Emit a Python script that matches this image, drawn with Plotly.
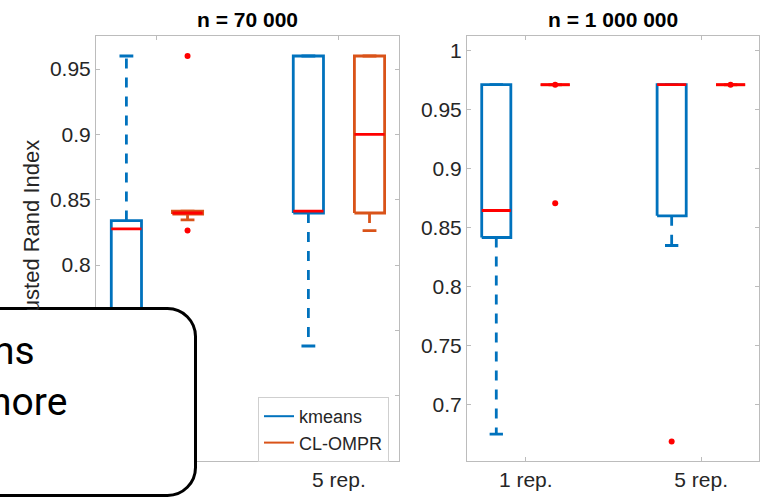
import plotly.graph_objects as go

W, H = 760, 497

groups = ["1 rep.", "5 rep."]
methods = ["kmeans", "CL-OMPR"]
panel_titles = ["n = 70 000", "n = 1 000 000"]
y_label = "Adjusted Rand Index"
callout_lines = ["ns", "nore"]

# ---- n = 70 000 ----
k70_q1 = [0.750, 0.8398]
k70_med = [0.8276, 0.8413]
k70_q3 = [0.8340, 0.9600]
k70_lo = [0.690, 0.7380]
k70_hi = [0.9600, 0.9600]
k70_out = [[], []]

c70_q1 = [0.8390, 0.8398]
c70_med = [0.8398, 0.9000]
c70_q3 = [0.8413, 0.9600]
c70_lo = [0.8345, 0.8263]
c70_hi = [0.8413, 0.9600]
c70_out = [[0.9600, 0.8265], []]

# ---- n = 1 000 000 ----
k1m_q1 = [0.8418, 0.8602]
k1m_med = [0.8647, 0.9714]
k1m_q3 = [0.9714, 0.9714]
k1m_lo = [0.6750, 0.8350]
k1m_hi = [0.9714, 0.9714]
k1m_out = [[], [0.6687]]

c1m_q1 = [0.9713, 0.9713]
c1m_med = [0.9714, 0.9714]
c1m_q3 = [0.9715, 0.9715]
c1m_lo = [0.9713, 0.9713]
c1m_hi = [0.9715, 0.9715]
c1m_out = [[0.8709, 0.9714], [0.9714]]

left_yticks = [0.7, 0.75, 0.8, 0.85, 0.9, 0.95]
left_yticklabels = ["0.7", "0.75", "0.8", "0.85", "0.9", "0.95"]
right_yticks = [0.7, 0.75, 0.8, 0.85, 0.9, 0.95, 1.0]
right_yticklabels = ["0.7", "0.75", "0.8", "0.85", "0.9", "0.95", "1"]

BLUE = "#0072BD"
ORANGE = "#D95319"
RED = "#FF0000"
AXC = "#bcbcbc"
TXT = "#262626"
FONT = "Liberation Sans, Arial, sans-serif"

panels = [
    dict(stats=[(k70_q1, k70_med, k70_q3, k70_lo, k70_hi, k70_out),
                (c70_q1, c70_med, c70_q3, c70_lo, c70_hi, c70_out)],
         xa="x", ya="y"),
    dict(stats=[(k1m_q1, k1m_med, k1m_q3, k1m_lo, k1m_hi, k1m_out),
                (c1m_q1, c1m_med, c1m_q3, c1m_lo, c1m_hi, c1m_out)],
         xa="x2", ya="y2"),
]

offsets = [-0.168, 0.168]
half = 0.083
cap = 0.038
colors = [BLUE, ORANGE]

fig = go.Figure()

for p in panels:
    for m, (q1, med, q3, lo, hi, out) in enumerate(p["stats"]):
        bx, by, wx, wy, mx, my, ox, oy = [], [], [], [], [], [], [], []
        for g in range(len(groups)):
            c = g + 1 + offsets[m]
            bx += [c - half, c + half, c + half, c - half, c - half, None]
            by += [q1[g], q1[g], q3[g], q3[g], q1[g], None]
            bx += [c - cap, c + cap, None, c - cap, c + cap, None]
            by += [hi[g], hi[g], None, lo[g], lo[g], None]
            wx += [c, c, None, c, c, None]
            wy += [q3[g], hi[g], None, q1[g], lo[g], None]
            mx += [c - half, c + half, None]
            my += [med[g], med[g], None]
            for v in out[g]:
                ox.append(c)
                oy.append(v)
        fig.add_trace(go.Scatter(x=wx, y=wy, mode="lines", xaxis=p["xa"], yaxis=p["ya"],
                                 line=dict(color=colors[m], width=2.8, dash="10px,9px"),
                                 showlegend=False, hoverinfo="skip"))
        fig.add_trace(go.Scatter(x=bx, y=by, mode="lines", xaxis=p["xa"], yaxis=p["ya"],
                                 line=dict(color=colors[m], width=2.8),
                                 showlegend=False, hoverinfo="skip"))
        fig.add_trace(go.Scatter(x=mx, y=my, mode="lines", xaxis=p["xa"], yaxis=p["ya"],
                                 line=dict(color=RED, width=2.8),
                                 showlegend=False, hoverinfo="skip"))
        fig.add_trace(go.Scatter(x=ox, y=oy, mode="markers", xaxis=p["xa"], yaxis=p["ya"],
                                 marker=dict(color=RED, size=6),
                                 showlegend=False, hoverinfo="skip"))

for m, name in enumerate(methods):
    fig.add_trace(go.Scatter(x=[None], y=[None], mode="lines", name=name,
                             line=dict(color=colors[m], width=2), xaxis="x", yaxis="y"))


def px(x):
    return x / W


def py(y):
    return 1 - y / H


ydom = [py(460.7), py(36)]
common_x = dict(range=[0.665, 2.33], tickvals=[1, 2], ticktext=groups,
                showline=True, mirror="ticks", linecolor=AXC, linewidth=1,
                ticks="inside", ticklen=4, tickcolor=AXC, showgrid=False, zeroline=False,
                tickfont=dict(family=FONT, size=21, color=TXT))
common_y = dict(showline=True, mirror="ticks", linecolor=AXC, linewidth=1,
                ticks="inside", ticklen=4, tickcolor=AXC, showgrid=False, zeroline=False,
                tickfont=dict(family=FONT, size=21, color=TXT))

fig.update_layout(
    width=W, height=H,
    margin=dict(l=0, r=0, t=0, b=0),
    paper_bgcolor="white", plot_bgcolor="white",
    xaxis=dict(domain=[px(96), px(399)], anchor="y", **common_x),
    yaxis=dict(domain=ydom, anchor="x", range=[0.6502, 0.9753],
               tickvals=left_yticks, ticktext=left_yticklabels, **common_y),
    xaxis2=dict(domain=[px(467), px(759)], anchor="y2", **common_x),
    yaxis2=dict(domain=ydom, anchor="x2", range=[0.6525, 1.0127],
                tickvals=right_yticks, ticktext=right_yticklabels, **common_y),
    legend=dict(x=px(258), y=py(397), xanchor="left", yanchor="top",
                xref="paper", yref="paper",
                bgcolor="white", bordercolor="#cfcfcf", borderwidth=1,
                font=dict(family=FONT, size=18, color=TXT), tracegroupgap=0),
    showlegend=True,
)

ann = []
ann.append(dict(text=f"<b>{panel_titles[0]}</b>", x=px(247.5), y=py(19.5), xref="paper", yref="paper",
                xanchor="center", yanchor="middle", showarrow=False,
                font=dict(family=FONT, size=21, color="black")))
ann.append(dict(text=f"<b>{panel_titles[1]}</b>", x=px(613), y=py(19.5), xref="paper", yref="paper",
                xanchor="center", yanchor="middle", showarrow=False,
                font=dict(family=FONT, size=21, color="black")))
ann.append(dict(text=y_label, textangle=-90, x=px(31), y=py(138), xref="paper", yref="paper",
                xanchor="center", yanchor="top", showarrow=False,
                font=dict(family=FONT, size=22, color=TXT)))
# white patch inside the callout, hiding the part of the y label it covers
ann.append(dict(text=" ", x=px(10), y=py(310), xref="paper", yref="paper",
                xanchor="left", yanchor="top", showarrow=False,
                width=42, height=36, bgcolor="white", borderpad=0, borderwidth=0))

# callout box (rounded rectangle)
L, R, T, B, r = -20, 195.5, 308.5, 495.5, 28
k = 0.5523 * r
path = (f"M {px(L)},{py(T)} L {px(R - r)},{py(T)} "
        f"C {px(R - r + k)},{py(T)} {px(R)},{py(T + r - k)} {px(R)},{py(T + r)} "
        f"L {px(R)},{py(B - r)} "
        f"C {px(R)},{py(B - r + k)} {px(R - r + k)},{py(B)} {px(R - r)},{py(B)} "
        f"L {px(L)},{py(B)} Z")
fig.add_shape(type="path", path=path, xref="paper", yref="paper", layer="above",
              fillcolor="white", line=dict(color="black", width=3))

CFONT = "Liberation Sans Narrow, Roboto, sans-serif"
ann.append(dict(text=callout_lines[0], x=px(37), y=py(366.7), xref="paper", yref="paper",
                xanchor="right", yanchor="bottom", showarrow=False, yshift=-9,
                font=dict(family=CFONT, size=39, color="black")))
ann.append(dict(text=callout_lines[1], x=px(69), y=py(418.3), xref="paper", yref="paper",
                xanchor="right", yanchor="bottom", showarrow=False, yshift=-9,
                font=dict(family=CFONT, size=39, color="black")))
fig.update_layout(annotations=ann)

fig.write_html("out.html", config={"displayModeBar": False},
               post_script="document.body.style.margin='0';document.body.style.padding='0';")
